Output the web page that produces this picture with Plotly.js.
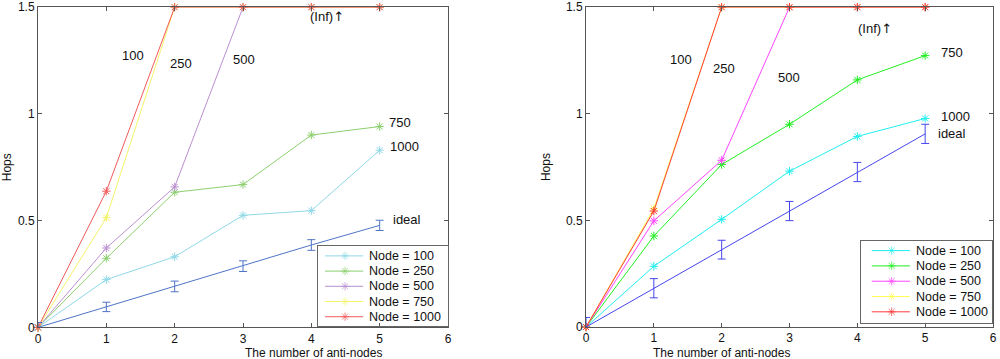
<!DOCTYPE html>
<html>
<head>
<meta charset="utf-8">
<script src="https://cdn.plot.ly/plotly-3.0.1.min.js"></script>
<style>
  html, body { margin: 0; padding: 0; background: #fff; }
  #chart { width: 1000px; height: 359px; }
</style>
</head>
<body>
<div id="chart"></div>
<script>
const antiNodes = [0, 1, 2, 3, 4, 5];
const nodeNames = ['Node = 100', 'Node = 250', 'Node = 500', 'Node = 750', 'Node = 1000'];
const hopTicks = [0, 0.5, 1, 1.5];
const hopTickText = ['0', '0.5', '1', '1.5'];

// left panel
const leftNode100 = [0, 0.224, 0.331, 0.525, 0.547, 0.830];
const leftNode250 = [0, 0.324, 0.633, 0.669, 0.901, 0.941];
const leftNode500 = [0, 0.372, 0.658, 1.5, 1.5, 1.5];
const leftNode750 = [0, 0.514, 1.5, 1.5, 1.5, 1.5];
const leftNode1000 = [0, 0.638, 1.5, 1.5, 1.5, 1.5];
const leftIdeal = [0, 0.096, 0.192, 0.287, 0.386, 0.478];
const leftIdealErr = [0.023, 0.022, 0.025, 0.025, 0.025, 0.024];

// right panel
const rightNode100 = [0, 0.285, 0.505, 0.731, 0.894, 0.978];
const rightNode250 = [0, 0.427, 0.762, 0.951, 1.159, 1.273];
const rightNode500 = [0, 0.498, 0.782, 1.5, 1.5, 1.5];
const rightNode750 = [0, 0.555, 1.5, 1.5, 1.5, 1.5];
const rightNode1000 = [0, 0.544, 1.5, 1.5, 1.5, 1.5];
const rightIdeal = [0, 0.182, 0.363, 0.544, 0.727, 0.906];
const rightIdealErr = [0.045, 0.045, 0.044, 0.045, 0.045, 0.045];

// labels written inside the plots
const labelTexts = ['100', '250', '500', '(Inf)<span style="font-family:DejaVu Sans">\u2191</span>', '750', '1000', 'ideal'];
const leftLabelX = [1.39, 2.09, 3.01, 4.23, 5.30, 5.37, 5.40];
const leftLabelY = [1.273, 1.234, 1.257, 1.458, 0.958, 0.847, 0.506];
const rightLabelX = [1.40, 2.04, 2.99, 4.26, 5.40, 5.44, 5.40];
const rightLabelY = [1.255, 1.214, 1.168, 1.400, 1.288, 0.987, 0.907];

const leftColors = ['#8fd8e6', '#8ccf6e', '#bb8fd0', '#f3f36c', '#f25a5a'];
const leftIdealColor = '#4f74c6';
const rightColors = ['#22eeee', '#22ee22', '#ff44ff', '#ffff55', '#ff3a3a'];
const rightIdealColor = '#4646ee';

const fontFamily = 'Liberation Sans, Arial, sans-serif';
const textColor = '#111';

function nodeTrace(y, name, color, xa, ya) {
    return {
        x: antiNodes,
        y: y,
        name: name,
        mode: 'lines+markers',
        xaxis: xa,
        yaxis: ya,
        showlegend: false,
        cliponaxis: false,
        line: { color: color, width: 1 },
        marker: { symbol: 'asterisk-open', size: 7, color: color, line: { color: color, width: 1 } },
    };
}

function idealTrace(y, err, color, xa, ya) {
    return {
        x: antiNodes,
        y: y,
        name: 'ideal',
        mode: 'lines',
        xaxis: xa,
        yaxis: ya,
        showlegend: false,
        line: { color: color, width: 1 },
        error_y: { type: 'data', array: err, visible: true, color: color, thickness: 1, width: 4 },
    };
}

const leftSeries = [leftNode100, leftNode250, leftNode500, leftNode750, leftNode1000];
const rightSeries = [rightNode100, rightNode250, rightNode500, rightNode750, rightNode1000];

let data = [];
leftSeries.forEach((s, i) => data.push(nodeTrace(s, nodeNames[i], leftColors[i], 'x', 'y')));
data.push(idealTrace(leftIdeal, leftIdealErr, leftIdealColor, 'x', 'y'));
rightSeries.forEach((s, i) => data.push(nodeTrace(s, nodeNames[i], rightColors[i], 'x2', 'y2')));
data.push(idealTrace(rightIdeal, rightIdealErr, rightIdealColor, 'x2', 'y2'));

let annotations = [];

// MATLAB-style legend boxes: a small inset axis each, one row per series
// sample = [line start, marker, line end, text start] as fractions of box width
function addLegend(xa, ya, colors, sample) {
    nodeNames.forEach((name, i) => {
        data.push({
            x: [sample[0], sample[1], sample[2]],
            y: [i, i, i],
            mode: 'lines+markers',
            xaxis: xa,
            yaxis: ya,
            showlegend: false,
            hoverinfo: 'skip',
            cliponaxis: false,
            line: { color: colors[i], width: 1 },
            marker: { symbol: 'asterisk-open', size: [0, 7, 0], color: colors[i], line: { color: colors[i], width: 1 } },
        });
        annotations.push({
            xref: xa, yref: ya, x: sample[3], y: i, text: name, showarrow: false,
            xanchor: 'left', yanchor: 'middle',
            font: { family: fontFamily, size: 12.5, color: textColor },
        });
    });
}
addLegend('x3', 'y3', leftColors, [0.054, 0.208, 0.348, 0.38]);
addLegend('x4', 'y4', rightColors, [0.082, 0.234, 0.374, 0.405]);

function xAxis(domain, anchor) {
    return {
        domain: domain,
        anchor: anchor,
        range: [0, 6],
        dtick: 1,
        tick0: 0,
        ticks: 'inside',
        ticklen: 4,
        tickcolor: '#555',
        showline: true,
        linecolor: '#555',
        linewidth: 1,
        mirror: 'ticks',
        showgrid: false,
        zeroline: false,
        ticklabeloverflow: 'allow',
        tickfont: { family: fontFamily, size: 12, color: textColor },
    };
}

function yAxis(domain, anchor) {
    return {
        domain: domain,
        anchor: anchor,
        range: [0, 1.5],
        tickmode: 'array',
        tickvals: hopTicks,
        ticktext: hopTickText,
        ticks: 'inside',
        ticklen: 4,
        tickcolor: '#555',
        showline: true,
        linecolor: '#555',
        linewidth: 1,
        mirror: 'ticks',
        showgrid: false,
        zeroline: false,
        ticklabeloverflow: 'allow',
        tickfont: { family: fontFamily, size: 12, color: textColor },
        title: { text: 'Hops', standoff: 12, font: { family: fontFamily, size: 12, color: textColor } },
    };
}

function boxAxis(domain, anchor, range) {
    return {
        domain: domain,
        anchor: anchor,
        range: range,
        showline: true,
        linecolor: '#666',
        linewidth: 1,
        mirror: true,
        ticks: '',
        showticklabels: false,
        showgrid: false,
        zeroline: false,
    };
}

labelTexts.forEach((t, i) => {
    annotations.push({ xref: 'x', yref: 'y', x: leftLabelX[i], y: leftLabelY[i], text: t, showarrow: false,
        font: { family: fontFamily, size: 13, color: textColor } });
    annotations.push({ xref: 'x2', yref: 'y2', x: rightLabelX[i], y: rightLabelY[i], text: t, showarrow: false,
        font: { family: fontFamily, size: 13, color: textColor } });
});

// x axis titles
[0.244, 0.791].forEach(cx => {
    annotations.push({ xref: 'paper', yref: 'paper', x: cx, y: 0.017, yanchor: 'middle', borderpad: 0,
        text: 'The number of anti-nodes', showarrow: false,
        font: { family: fontFamily, size: 12, color: textColor } });
});

let layout = {
    width: 1000,
    height: 359,
    margin: { l: 0, r: 0, t: 0, b: 0 },
    paper_bgcolor: '#fff',
    plot_bgcolor: 'rgba(0,0,0,0)',
    showlegend: false,
    xaxis: xAxis([0.038, 0.448], 'y'),
    yaxis: yAxis([0.088, 0.980], 'x'),
    xaxis2: xAxis([0.586, 0.993], 'y2'),
    yaxis2: yAxis([0.089, 0.980], 'x2'),
    xaxis3: boxAxis([0.318, 0.448], 'y3', [0, 1]),
    yaxis3: boxAxis([0.093, 0.3156], 'x3', [4.584, -0.669]),
    xaxis4: boxAxis([0.861, 0.992], 'y4', [0, 1]),
    yaxis4: boxAxis([0.0995, 0.3287], 'x4', [4.748, -0.626]),
    annotations: annotations,
};

Plotly.newPlot('chart', data, layout, { displayModeBar: false, staticPlot: true });
</script>
</body>
</html>
